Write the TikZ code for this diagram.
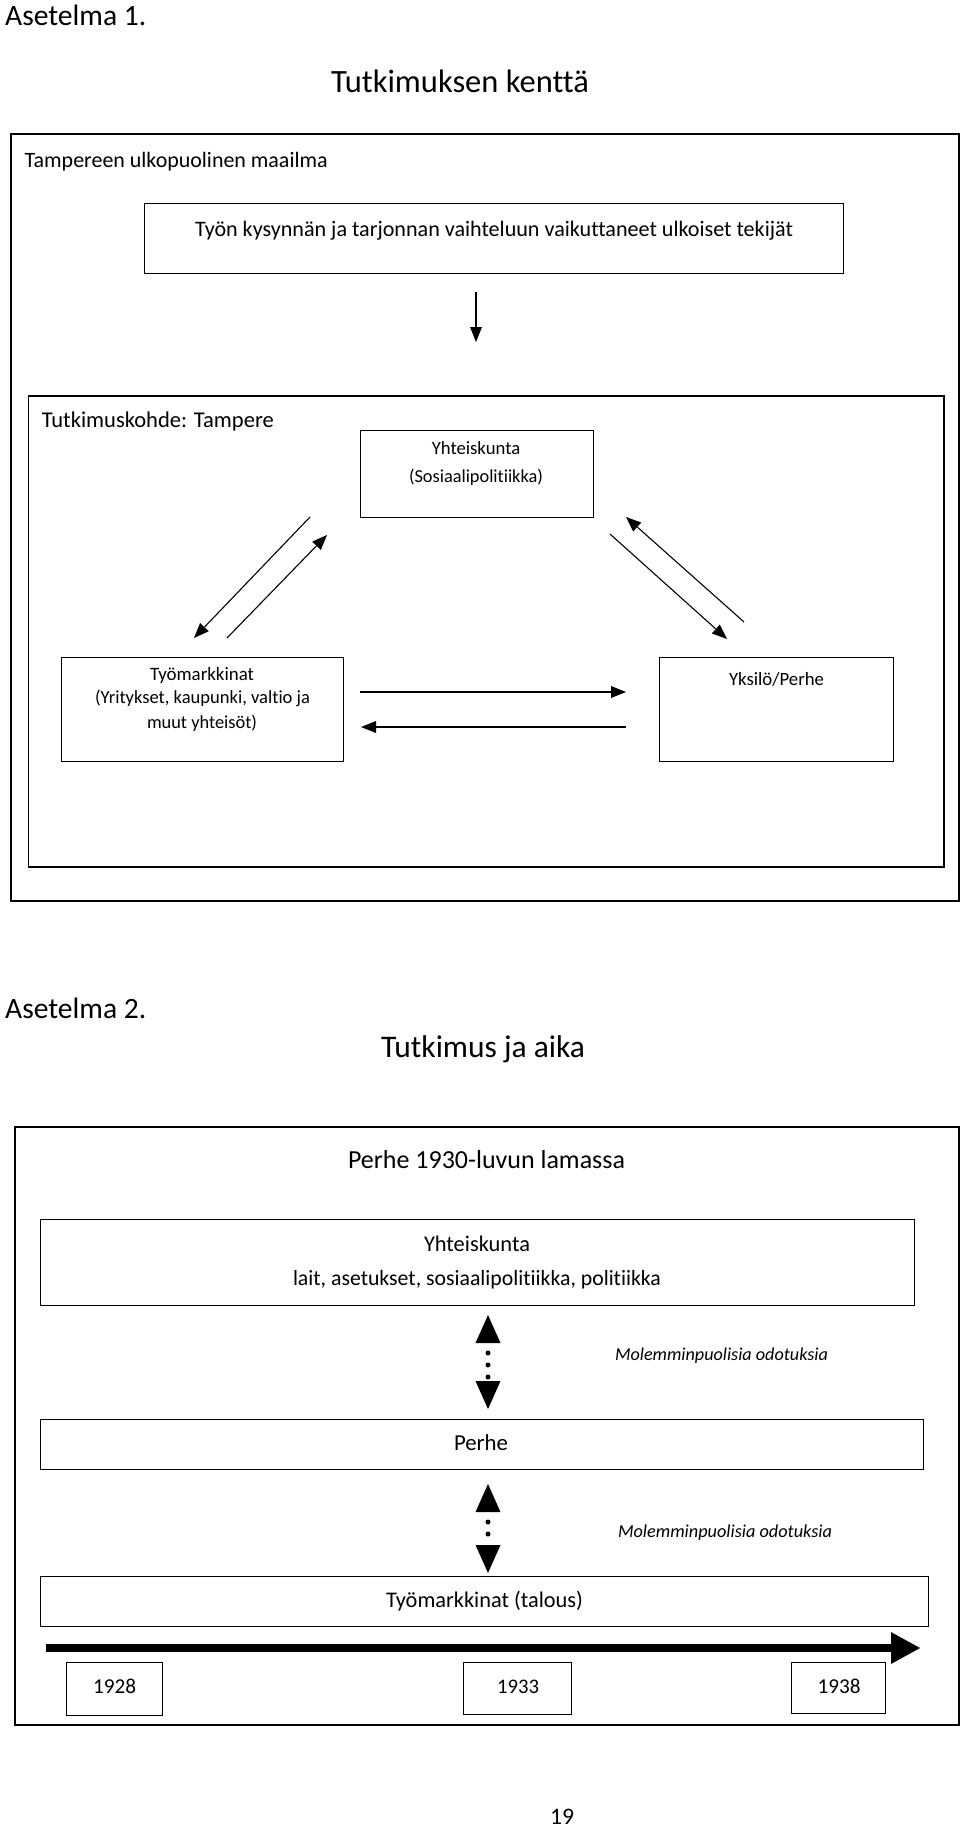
\documentclass[tikz,border=0pt]{standalone}
\usepackage{fontspec}
\setmainfont[Ligatures={NoCommon}]{Carlito}
\usetikzlibrary{arrows.meta}
\newsavebox\mybox
\newcommand{\fitw}[2]{\sbox\mybox{\fontsize{10pt}{12pt}\selectfont #2}\pgfmathsetmacro\fitsz{10*(#1/\the\wd\mybox)}\fontsize{\fitsz pt}{\fitsz pt}\selectfont #2}
\begin{document}
\begin{tikzpicture}[x=1pt,y=-1pt,
  box/.style={draw, line width=1.2pt, rectangle, inner sep=0pt, anchor=north west},
  obox/.style={draw, line width=1.5pt, rectangle, inner sep=0pt, anchor=north west},
  txt/.style={inner sep=0pt, anchor=base},
  txtw/.style={inner sep=0pt, anchor=base west},
  thinarr/.style={line width=1.1pt, -{Triangle[length=15pt,width=12pt,line width=0pt]}},
  dblarr/.style={line width=5pt, line cap=round, dash pattern=on 0pt off 12pt, dash phase=2pt,
     {Triangle[length=28pt,width=25pt,line width=0pt]}-{Triangle[length=28pt,width=25pt,line width=0pt]}},
  timearr/.style={line width=8pt, -{Triangle[length=29pt,width=32pt,line width=0pt]}}
]
\useasboundingbox[fill=white] (0,0) rectangle (960,1829);

% ---------- Asetelma 1 ----------
\node[txtw] (as1) at (5,25) {\fitw{141}{Asetelma 1.}};
\node[txt] (tit1) at (460,92) {\fitw{258}{Tutkimuksen kenttä}};

\node[obox, minimum width=948pt, minimum height=767pt] (outer1) at (10,133) {};
\node[txtw] (tum) at (24.5,167) {\fitw{303}{Tampereen ulkopuolinen maailma}};

\node[box, minimum width=699pt, minimum height=70pt] (ext) at (144,203) {};
\node[txt] (extt) at (494,236) {\fitw{598}{Työn kysynnän ja tarjonnan vaihteluun vaikuttaneet ulkoiset tekijät}};

\coordinate (va) at (476,292);
\coordinate (vb) at (476,342);
\draw[thinarr] (va) -- (vb);

\node[obox, minimum width=915.5pt, minimum height=471pt] (inner) at (27.5,395) {};
\node[txtw] (tkt) at (41.6,427) {\fitw{232}{Tutkimuskohde: Tampere}};

\node[box, minimum width=233pt, minimum height=87pt] (yht) at (360,430) {};
\node[txt] (yht1) at (476,454) {\fitw{88.5}{Yhteiskunta}};
\node[txt] (yht2) at (476,482) {\fitw{134}{(Sosiaalipolitiikka)}};

\node[box, minimum width=282pt, minimum height=104pt] (tyo) at (61,657) {};
\node[txt] (tyo1) at (202,680) {\fitw{104}{Työmarkkinat}};
\node[txt] (tyo2) at (202.5,703) {\fitw{215}{(Yritykset, kaupunki, valtio ja}};
\node[txt] (tyo3) at (202,728) {\fitw{110}{muut yhteisöt)}};

\node[box, minimum width=234pt, minimum height=104pt] (yks) at (659,657) {};
\node[txt] (yks1) at (776.5,685) {\fitw{95}{Yksilö/Perhe}};

% diagonal arrows
\coordinate (l1a) at (310,517); \coordinate (l1b) at (194,638);
\coordinate (l2a) at (227,638); \coordinate (l2b) at (327,535);
\draw[thinarr] (l1a) -- (l1b);
\draw[thinarr] (l2a) -- (l2b);
\coordinate (r1a) at (610,534); \coordinate (r1b) at (727,639);
\coordinate (r2a) at (744,622); \coordinate (r2b) at (626,517);
\draw[thinarr] (r1a) -- (r1b);
\draw[thinarr] (r2a) -- (r2b);
% horizontal arrows
\coordinate (h1a) at (360,692); \coordinate (h1b) at (626,692);
\coordinate (h2a) at (626,727); \coordinate (h2b) at (361,727);
\draw[thinarr] (h1a) -- (h1b);
\draw[thinarr] (h2a) -- (h2b);

% ---------- Asetelma 2 ----------
\node[txtw] (as2) at (5,1018) {\fitw{141}{Asetelma 2.}};
\node[txt] (tit2) at (483,1057) {\fitw{204}{Tutkimus ja aika}};

\node[obox, minimum width=944pt, minimum height=598pt] (outer2) at (14,1126) {};
\node[txt] (plam) at (486.5,1168) {\fitw{277}{Perhe 1930-luvun lamassa}};

\node[box, minimum width=874pt, minimum height=86pt] (yhtb) at (40,1219) {};
\node[txt] (yhtb1) at (477,1251) {\fitw{106}{Yhteiskunta}};
\node[txt] (yhtb2) at (477,1285) {\fitw{368}{lait, asetukset, sosiaalipolitiikka, politiikka}};

\node[box, minimum width=883pt, minimum height=50pt] (perhe) at (40,1419) {};
\node[txt] (perhet) at (481,1450) {\fitw{54}{Perhe}};

\node[box, minimum width=888pt, minimum height=50pt] (tyob) at (40,1576) {};
\node[txt] (tyobt) at (484.5,1607) {\fitw{197}{Työmarkkinat (talous)}};

\coordinate (d1a) at (488,1315); \coordinate (d1b) at (488,1409);
\draw[dblarr] (d1a) -- (d1b);
\node[txt] (mol1) at (721.5,1360) {\fitw{213}{\itshape Molemminpuolisia odotuksia}};

\coordinate (d2a) at (488,1484); \coordinate (d2b) at (488,1573);
\draw[dblarr] (d2a) -- (d2b);
\node[txt] (mol2) at (725,1537) {\fitw{214}{\itshape Molemminpuolisia odotuksia}};

\coordinate (ta) at (46,1648); \coordinate (tb) at (920,1648);
\draw[timearr] (ta) -- (tb);

\node[box, minimum width=96.5pt, minimum height=53pt] (y28) at (65.5,1662) {};
\node[txt] (y28t) at (114.5,1693) {\fitw{43}{1928}};
\node[box, minimum width=108pt, minimum height=52pt] (y33) at (463,1662) {};
\node[txt] (y33t) at (518,1693) {\fitw{42}{1933}};
\node[box, minimum width=94pt, minimum height=51pt] (y38) at (791,1662) {};
\node[txt] (y38t) at (839,1693) {\fitw{43}{1938}};

\node[txt] (pg) at (562,1824) {\fitw{24}{19}};
\end{tikzpicture}
\end{document}
